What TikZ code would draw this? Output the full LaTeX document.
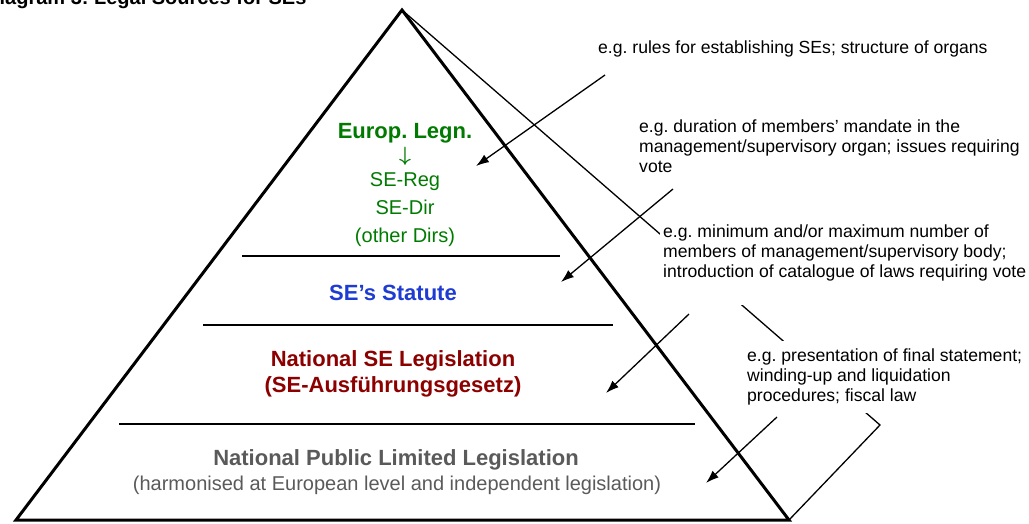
\documentclass[tikz,border=0pt]{standalone}
\usepackage{fontspec}
\setmainfont{Liberation Sans}
\usetikzlibrary{arrows.meta}
\definecolor{legngreen}{RGB}{0,122,0}
\definecolor{statblue}{RGB}{30,60,210}
\definecolor{natred}{RGB}{140,0,0}
\definecolor{pubgray}{RGB}{90,90,90}
\frenchspacing

\begin{document}
\begin{tikzpicture}[x=1pt,y=-1pt]

\tikzset{level/.style = {font=\fontsize{22}{26}\selectfont\bfseries, anchor=base}}
\tikzset{sub/.style = {font=\fontsize{20}{24}\selectfont, anchor=base}}
\tikzset{note/.style = {font=\fontsize{17.6}{19.6}\selectfont, align=left, inner sep=0pt}}
\tikzset{edge/.style = {->, line width=1.3pt, > = {Latex[length=13pt,width=9pt]}}}
\tikzset{rule/.style = {line width=1.8pt}}

\useasboundingbox (0,0) rectangle (1029,523);

%title
\node[anchor=base west, inner sep=0pt, font=\fontsize{20}{24}\selectfont\bfseries] (title) at (-15,4) {Diagram 3: Legal Sources for SEs};

%pyramid
\coordinate (apex) at (402,10);
\coordinate (baseL) at (16,520);
\coordinate (baseR) at (789,520);
\coordinate (tipR) at (880,425);
\draw[line width=1.3pt] (apex) -- (tipR) -- (baseR);
\draw[line width=3pt, line join=miter] (apex) -- (baseL) -- (baseR) -- cycle;

%separators
\coordinate (sepAl) at (242,256);
\coordinate (sepAr) at (560,256);
\coordinate (sepBl) at (203,325);
\coordinate (sepBr) at (613,325);
\coordinate (sepCl) at (119,424);
\coordinate (sepCr) at (695,424);
\draw[rule] (sepAl) -- (sepAr);
\draw[rule] (sepBl) -- (sepBr);
\draw[rule] (sepCl) -- (sepCr);

%levels
\node[level, legngreen] (europ) at (405,138) {Europ. Legn.};
\node[sub, legngreen, inner sep=0pt, font=\fontsize{22}{24}\selectfont\boldmath] (down) at (405,161) {$\downarrow$};
\node[sub, legngreen] (reg) at (405,186) {SE-Reg};
\node[sub, legngreen] (dir) at (405,214) {SE-Dir};
\node[sub, legngreen] (dirs) at (405,242) {(other Dirs)};
\node[level, statblue] (statute) at (393,300) {SE’s Statute};
\node[level, natred] (natse) at (393,366) {National SE Legislation};
\node[level, natred] (ausf) at (393,392) {(SE-Ausführungsgesetz)};
\node[level, pubgray] (natpub) at (396,465) {National Public Limited Legislation};
\node[sub, pubgray] (harm) at (397,490) {(harmonised at European level and independent legislation)};

%notes
\node[note, anchor=base west] (rules) at (598,53) {e.g. rules for establishing SEs; structure of organs};
\node[note, anchor=north west] (duration) at (639,120) {e.g. duration of members’ mandate in the\\management/supervisory organ; issues requiring\\vote};
\node[note, anchor=north west, fill=white, inner xsep=3pt, inner ysep=24pt] (minimum) at (660,201) {e.g. minimum and/or maximum number of\\members of management/supervisory body;\\introduction of catalogue of laws requiring vote};
\node[note, anchor=north west, fill=white, inner xsep=3pt, inner ysep=8pt] (present) at (744,341) {e.g. presentation of final statement;\\winding-up and liquidation\\procedures; fiscal law};

%edges
\coordinate (rulesOut) at (605,75);
\coordinate (europIn) at (476,166);
\coordinate (durOut) at (673,189);
\coordinate (statIn) at (561,282);
\coordinate (minOut) at (689,314);
\coordinate (natseIn) at (606,393);
\coordinate (presOut) at (777,417);
\coordinate (natpubIn) at (706,483);
\draw[edge] (rulesOut) -- (europIn);
\draw[edge] (durOut) -- (statIn);
\draw[edge] (minOut) -- (natseIn);
\draw[edge] (presOut) -- (natpubIn);
\end{tikzpicture}
\end{document}
